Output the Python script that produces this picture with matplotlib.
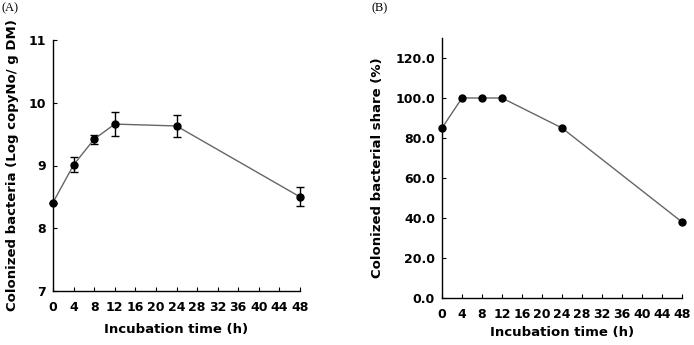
import matplotlib
matplotlib.use("Agg")
import matplotlib.pyplot as plt

# Panel A data
hours_a = [0, 4, 8, 12, 24, 48]
log_copies = [8.41, 9.01, 9.42, 9.66, 9.63, 8.50]
log_err = [0.0, 0.12, 0.07, 0.19, 0.18, 0.15]

# Panel B data
hours_b = [0, 4, 8, 12, 24, 48]
share_pct = [85.0, 100.0, 100.0, 100.0, 85.0, 38.0]

x_ticks = list(range(0, 49, 4))
ya_ticks = [7, 8, 9, 10, 11]
yb_ticks = [0, 20, 40, 60, 80, 100, 120]
yb_ticklabels = ["0.0", "20.0", "40.0", "60.0", "80.0", "100.0", "120.0"]

W, H = 694, 345
fig = plt.figure(figsize=(W / 100, H / 100), dpi=100)

font = "DejaVu Sans"
tick_fs = 9
label_fs = 9.5
line_col = "#666666"

def style(ax):
    for s in ("top", "right"):
        ax.spines[s].set_visible(False)
    for s in ("left", "bottom"):
        ax.spines[s].set_linewidth(1.0)
        ax.spines[s].set_color("black")
    ax.tick_params(direction="in", length=3, width=0.8, pad=5, labelsize=tick_fs)
    ax.tick_params(axis="x", pad=7)
    for lab in ax.get_xticklabels() + ax.get_yticklabels():
        lab.set_fontweight("bold")
        lab.set_family(font)

# Panel A
axA = fig.add_axes([53 / W, 1 - 291 / H, 247 / W, 251 / H])
axA.errorbar(hours_a, log_copies, yerr=log_err, color=line_col, lw=1.0,
             marker="o", ms=5, mfc="black", mec="black",
             ecolor="black", elinewidth=1.0, capsize=3, capthick=1.0, clip_on=False)
axA.set_xlim(0, 48)
axA.set_ylim(7, 11)
axA.set_xticks(x_ticks)
axA.set_yticks(ya_ticks)
style(axA)
axA.set_xlabel("Incubation time (h)", fontsize=label_fs, fontweight="bold", family=font, labelpad=7)
axA.set_ylabel("Colonized bacteria (Log copyNo/ g DM)", fontsize=label_fs, fontweight="bold", family=font, labelpad=7)

# Panel B
axB = fig.add_axes([442 / W, 1 - 298 / H, 240 / W, 260 / H])
axB.plot(hours_b, share_pct, color=line_col, lw=1.0, marker="o", ms=5,
         mfc="black", mec="black", clip_on=False)
axB.set_xlim(0, 48)
axB.set_ylim(0, 130)
axB.set_xticks(x_ticks)
axB.set_yticks(yb_ticks)
axB.set_yticklabels(yb_ticklabels)
style(axB)
axB.set_xlabel("Incubation time (h)", fontsize=label_fs, fontweight="bold", family=font, labelpad=4)
axB.set_ylabel("Colonized bacterial share (%)", fontsize=label_fs, fontweight="bold", family=font, labelpad=8)

fig.text(1 / W, 1 - 8 / H, "(A)", fontsize=9, family="Liberation Serif", va="center", ha="left")
fig.text(371 / W, 1 - 8 / H, "(B)", fontsize=9, family="Liberation Serif", va="center", ha="left")

fig.savefig("out.png", dpi=100)
